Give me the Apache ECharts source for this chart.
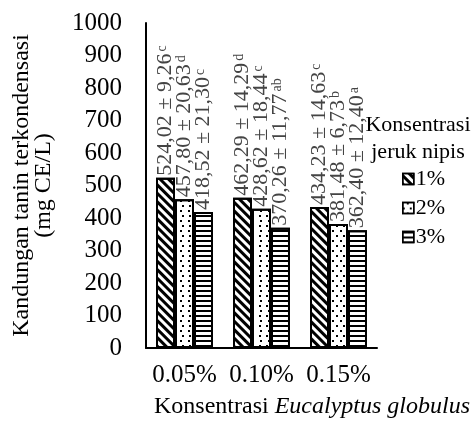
<!DOCTYPE html>
<html>
<head>
<meta charset="utf-8">
<script src="https://cdn.jsdelivr.net/npm/echarts@6/dist/echarts.min.js"></script>
<style>
html,body{margin:0;padding:0;background:#fff;}
#c{width:471px;height:429px;}
</style>
</head>
<body>
<div id="c"></div>
<script>
var categories = ['0.05%', '0.10%', '0.15%'];
var seriesNames = ['1%', '2%', '3%'];
var values1 = [524.02, 462.29, 434.23];
var values2 = [457.80, 428.62, 381.48];
var values3 = [418.52, 370.26, 362.40];
var sd1 = ['9,26', '14,29', '14,63'];
var sd2 = ['20,63', '18,44', '6,73'];
var sd3 = ['21,30', '11,77', '12,40'];
var sup1 = ['c', 'd', 'c'];
var sup2 = ['d', 'c', 'b'];
var sup3 = ['c', 'ab', 'a'];
var yTicks = [0, 100, 200, 300, 400, 500, 600, 700, 800, 900, 1000];

var FONT = 'Liberation Serif';

var decals = [
  { symbol: 'rect', symbolSize: 1, dashArrayX: [1, 0], dashArrayY: [3, 3], rotation: Math.PI / 4, color: '#000' },
  { symbol: 'rect', symbolSize: 1, dashArrayX: [[2, 5], [0, 3.5, 2, 1.5]], dashArrayY: [2, 3], rotation: 0, color: '#000' },
  { symbol: 'rect', symbolSize: 1, dashArrayX: [1, 0], dashArrayY: [2, 2.5], rotation: 0, color: '#000' }
];

function fmt(v) { return v.toFixed(2).replace('.', ','); }

function makeSeries(idx, vals, sds, sups) {
  return {
    name: seriesNames[idx],
    type: 'bar',
    barGap: '0%',
    barCategoryGap: '26%',
    data: vals,
    itemStyle: { color: '#fff', borderColor: '#000', borderWidth: 2, decal: decals[idx] },
    label: {
      show: true,
      position: 'top',
      rotate: 90,
      align: 'left',
      verticalAlign: 'middle',
      distance: 2,
      formatter: function (p) {
        return '{m|' + fmt(vals[p.dataIndex]) + ' \u00b1 ' + sds[p.dataIndex] + '}{s|' + sups[p.dataIndex] + '}';
      },
      rich: {
        m: { fontFamily: FONT, fontSize: 22, color: '#444', lineHeight: 20 },
        s: { fontFamily: FONT, fontSize: 14, color: '#444', verticalAlign: 'top', lineHeight: 20, padding: [0, 0, 0, 2] }
      }
    }
  };
}

var chart = echarts.init(document.getElementById('c'));
chart.setOption({
  animation: false,
  aria: { enabled: false, decal: { show: true } },
  grid: { left: 146, right: 94, top: 23, bottom: 81, containLabel: false },
  legend: {
    orient: 'vertical',
    left: 402,
    top: 168,
    padding: 0,
    itemWidth: 11,
    itemHeight: 11,
    itemGap: 7,
    icon: 'rect',
    data: seriesNames,
    textStyle: { fontFamily: FONT, fontSize: 22, color: '#000', padding: [0, 0, 0, -3] },
    itemStyle: { borderColor: '#000', borderWidth: 1.5 }
  },
  xAxis: {
    type: 'category',
    data: categories,
    axisLine: { lineStyle: { color: '#000', width: 2 } },
    axisTick: { show: false },
    axisLabel: { interval: 0, hideOverlap: false, fontFamily: FONT, fontSize: 25, color: '#000', margin: 15 }
  },
  yAxis: {
    type: 'value',
    min: 0,
    max: 1000,
    interval: 100,
    splitLine: { show: false },
    axisLine: { show: true, lineStyle: { color: '#000', width: 2 } },
    axisTick: { show: false },
    axisLabel: {
      fontFamily: FONT, fontSize: 25, color: '#000', margin: 24,
      formatter: function (v) { return yTicks.indexOf(v) >= 0 ? String(v) : ''; }
    },
    name: 'Kandungan tanin terkondensasi\n(mg CE/L)',
    nameLocation: 'middle',
    nameRotate: 90,
    nameGap: 91,
    nameTextStyle: { fontFamily: FONT, fontSize: 24, color: '#000', lineHeight: 22 }
  },
  graphic: [
    {
      type: 'text',
      x: 418,
      y: 112,
      style: {
        text: 'Konsentrasi\njeruk nipis',
        fontFamily: FONT, fontSize: 22, lineHeight: 27, fill: '#000',
        align: 'center', verticalAlign: 'top'
      }
    },
    {
      type: 'text',
      x: 312,
      y: 395,
      style: {
        text: '{a|Konsentrasi }{b|Eucalyptus globulus}',
        align: 'center', verticalAlign: 'top',
        rich: {
          a: { fontFamily: FONT, fontSize: 24, fill: '#000' },
          b: { fontFamily: FONT, fontSize: 24, fontStyle: 'italic', fill: '#000' }
        }
      }
    }
  ],
  series: [
    makeSeries(0, values1, sd1, sup1),
    makeSeries(1, values2, sd2, sup2),
    makeSeries(2, values3, sd3, sup3)
  ]
});
</script>
</body>
</html>
